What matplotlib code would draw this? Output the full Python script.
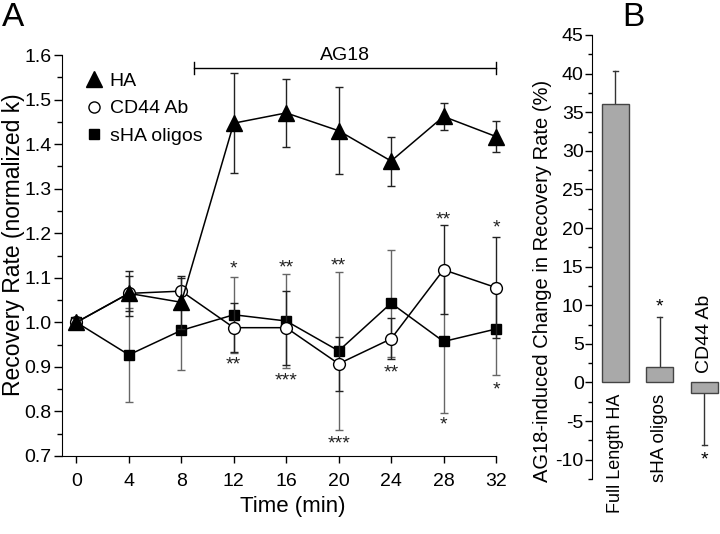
import numpy as np
import matplotlib.pyplot as plt
from matplotlib.lines import Line2D

plt.rcParams['font.family'] = ['Liberation Sans', 'DejaVu Sans']
plt.rcParams['axes.unicode_minus'] = False

# ---- Panel A data ----
time = [0, 4, 8, 12, 16, 20, 24, 28, 32]
ha = [1.0, 1.065, 1.045, 1.447, 1.47, 1.43, 1.362, 1.462, 1.417]
ha_err = [0.01, 0.05, 0.06, 0.112, 0.076, 0.098, 0.055, 0.03, 0.034]
cd44 = [1.0, 1.065, 1.07, 0.988, 0.988, 0.907, 0.963, 1.118, 1.078]
cd44_err = [0.01, 0.04, 0.03, 0.055, 0.083, 0.06, 0.046, 0.1, 0.114]
sha = [1.0, 0.927, 0.982, 1.017, 1.003, 0.936, 1.043, 0.957, 0.985]
sha_err = [0.01, 0.105, 0.09, 0.085, 0.105, 0.177, 0.12, 0.16, 0.104]

# significance stars (time, label, y)
stars_a = [(12, '*', 1.12), (12, '**', 0.905), (16, '**', 1.122), (16, '***', 0.868),
           (20, '**', 1.126), (20, '***', 0.728), (24, '**', 0.887), (28, '**', 1.23),
           (28, '*', 0.77), (32, '*', 1.212), (32, '*', 0.848)]

# ---- Panel B data ----
groups = ['Full Length HA', 'sHA oligos', 'CD44 Ab']
change = [36.1, 2.0, -1.3]
change_err = [4.2, 6.5, 6.8]

fig = plt.figure(figsize=(7.2, 5.34), dpi=100)
ax = fig.add_axes([62 / 720, 1 - 456 / 534, (496 - 62) / 720, (456 - 55) / 534])

ax.errorbar(time, sha, yerr=sha_err, color='black', ecolor='#666666', elinewidth=1,
            capsize=3, capthick=1, marker='s', ms=7.5, mfc='black', mec='black', lw=1.1,
            zorder=3, clip_on=False)
ax.errorbar(time, cd44, yerr=cd44_err, color='black', ecolor='#222222', elinewidth=1,
            capsize=3, capthick=1, marker='o', ms=8.5, mfc='white', mec='black', lw=1.1,
            zorder=4, clip_on=False)
ax.errorbar(time, ha, yerr=ha_err, color='black', ecolor='#222222', elinewidth=1,
            capsize=3, capthick=1, marker='^', ms=12, mfc='black', mec='black', lw=1.1,
            zorder=5, clip_on=False)

for t, s, y in stars_a:
    ax.text(t, y, s, ha='center', va='center', fontsize=14, color='#222222')

ax.set_xlim(-1.1, 32)
ax.set_ylim(0.7, 1.6)
ax.set_xticks(time)
yt = np.arange(0.7, 1.61, 0.1)
ax.set_yticks(yt)
ax.set_yticklabels([f'{v:.1f}' for v in yt])
ax.set_yticks(np.arange(0.75, 1.6, 0.1), minor=True)
for sp in ['top', 'right']:
    ax.spines[sp].set_visible(False)
ax.spines['left'].set_bounds(0.7, 1.6)
ax.spines['bottom'].set_bounds(-1.1, 32)
ax.tick_params(axis='x', which='major', length=5, width=1, labelsize=14, pad=7)
ax.tick_params(axis='y', which='major', length=5.5, width=1, labelsize=14, pad=2)
ax.tick_params(axis='y', which='minor', length=3.5, width=1)
ax.set_xlabel('Time (min)', fontsize=16)
ax.xaxis.set_label_coords(0.532, -0.1)
ax.set_ylabel('Recovery Rate (normalized k)', fontsize=16.5)
ax.yaxis.set_label_coords(-0.085, 0.526)

# AG18 bar
ax.plot([9, 32], [1.571, 1.571], color='black', lw=1, clip_on=False)
ax.plot([9, 9], [1.558, 1.584], color='black', lw=1, clip_on=False)
ax.plot([32, 32], [1.558, 1.584], color='black', lw=1, clip_on=False)
ax.text(20.5, 1.6, 'AG18', ha='center', va='center', fontsize=14)

handles = [Line2D([], [], ls='none', marker='^', ms=11, color='black'),
           Line2D([], [], ls='none', marker='o', ms=8, mfc='white', mec='black'),
           Line2D([], [], ls='none', marker='s', ms=7, color='black')]
ax.legend(handles, ['HA', 'CD44 Ab', 'sHA oligos'], loc='upper left',
          bbox_to_anchor=(0.007, 1.0), frameon=False, fontsize=14,
          handletextpad=0.2, labelspacing=0.5, handlelength=1.2)

fig.text(2 / 720, 1 - 18 / 534, 'A', fontsize=24, ha='left', va='center')

# ---- Panel B ----
bx = fig.add_axes([592 / 720, 1 - 479 / 534, (720 - 592) / 720, (479 - 35) / 534])
xpos = np.arange(len(groups))
bx.bar(xpos, change, width=0.6, color='#a9a9a9', edgecolor='#444444', lw=1, zorder=2)
for x, v, e in zip(xpos, change, change_err):
    sign = 1 if v >= 0 else -1
    bx.plot([x, x], [v, v + sign * e], color='#333333', lw=1, zorder=1)
    bx.plot([x - 0.06, x + 0.06], [v + sign * e] * 2, color='#333333', lw=1, zorder=1)
bx.text(1, 9.8, '*', ha='center', va='center', fontsize=14)
bx.text(2, -10.0, '*', ha='center', va='center', fontsize=14)
bx.text(0, -1.5, groups[0], rotation=90, ha='center', va='top', fontsize=13)
bx.text(1, -1.5, groups[1], rotation=90, ha='center', va='top', fontsize=13.5)
bx.text(2, 1.2, groups[2], rotation=90, ha='center', va='bottom', fontsize=14)

bx.set_xlim(-0.52, 2.35)
bx.set_ylim(-12.5, 45)
bx.set_yticks(np.arange(-10, 46, 5))
bx.set_yticks(np.arange(-12.5, 45, 5), minor=True)
bx.set_xticks([])
for sp in ['top', 'right', 'bottom']:
    bx.spines[sp].set_visible(False)
bx.spines['left'].set_bounds(-12.5, 45)
bx.tick_params(axis='y', which='major', length=5, width=1, labelsize=14, pad=1)
bx.tick_params(axis='y', which='minor', length=3, width=1)

fig.text(543 / 720, 1 - 281 / 534, 'AG18-induced Change in Recovery Rate (%)',
         rotation=90, ha='center', va='center', fontsize=14.5)
fig.text(622 / 720, 1 - 18 / 534, 'B', fontsize=24, ha='left', va='center')

fig.savefig('out.png', dpi=100)
